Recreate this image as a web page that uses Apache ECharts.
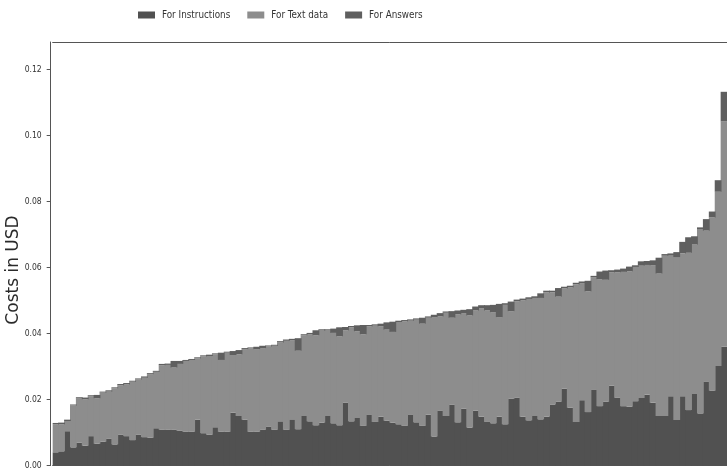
<!DOCTYPE html>
<html>
<head>
<meta charset="utf-8">
<script src="https://cdn.jsdelivr.net/npm/echarts@6/dist/echarts.min.js"></script>
<style>
  html, body { margin: 0; padding: 0; background: #ffffff; }
  #chart { width: 727px; height: 470px; }
</style>
</head>
<body>
<div id="chart"></div>
<script>
// Per-sample API cost split, samples ordered by total cost (USD)
const instructions = [
  0.0040, 0.0043, 0.0104, 0.0055, 0.0069, 0.0060, 0.0089, 0.0066, 0.0072, 0.0082,
  0.0064, 0.0094, 0.0089, 0.0077, 0.0094, 0.0086, 0.0084, 0.0113, 0.0108, 0.0108,
  0.0108, 0.0105, 0.0102, 0.0102, 0.0139, 0.0098, 0.0093, 0.0116, 0.0102, 0.0102,
  0.0160, 0.0150, 0.0139, 0.0102, 0.0102, 0.0108, 0.0117, 0.0108, 0.0134, 0.0108,
  0.0140, 0.0110, 0.0150, 0.0134, 0.0122, 0.0130, 0.0150, 0.0128, 0.0122, 0.0190,
  0.0134, 0.0144, 0.0120, 0.0155, 0.0132, 0.0148, 0.0136, 0.0130, 0.0125, 0.0120,
  0.0155, 0.0131, 0.0120, 0.0154, 0.0088, 0.0167, 0.0150, 0.0185, 0.0131, 0.0172,
  0.0115, 0.0166, 0.0148, 0.0132, 0.0128, 0.0148, 0.0125, 0.0202, 0.0205, 0.0148,
  0.0137, 0.0150, 0.0140, 0.0148, 0.0185, 0.0193, 0.0233, 0.0175, 0.0132, 0.0198,
  0.0162, 0.0229, 0.0180, 0.0193, 0.0242, 0.0205, 0.0180, 0.0178, 0.0195, 0.0205,
  0.0215, 0.0190, 0.0150, 0.0150, 0.0210, 0.0138, 0.0210, 0.0168, 0.0217, 0.0158,
  0.0255, 0.0227, 0.0302, 0.0360
];

const textData = [
  0.0085, 0.0082, 0.0031, 0.0127, 0.0134, 0.0141, 0.0121, 0.0138, 0.0149, 0.0142,
  0.0170, 0.0149, 0.0157, 0.0177, 0.0167, 0.0180, 0.0193, 0.0171, 0.0196, 0.0197,
  0.0189, 0.0203, 0.0215, 0.0218, 0.0186, 0.0233, 0.0239, 0.0221, 0.0218, 0.0240,
  0.0175, 0.0187, 0.0214, 0.0253, 0.0251, 0.0248, 0.0244, 0.0255, 0.0239, 0.0270,
  0.0240, 0.0238, 0.0245, 0.0264, 0.0273, 0.0279, 0.0259, 0.0274, 0.0270, 0.0220,
  0.0285, 0.0263, 0.0278, 0.0267, 0.0292, 0.0274, 0.0276, 0.0275, 0.0310, 0.0317,
  0.0284, 0.0311, 0.0310, 0.0294, 0.0362, 0.0285, 0.0313, 0.0263, 0.0327, 0.0290,
  0.0340, 0.0304, 0.0328, 0.0338, 0.0337, 0.0302, 0.0362, 0.0266, 0.0293, 0.0353,
  0.0368, 0.0358, 0.0368, 0.0377, 0.0340, 0.0319, 0.0304, 0.0365, 0.0417, 0.0355,
  0.0366, 0.0341, 0.0385, 0.0370, 0.0344, 0.0381, 0.0407, 0.0411, 0.0407, 0.0401,
  0.0393, 0.0417, 0.0432, 0.0486, 0.0428, 0.0494, 0.0433, 0.0477, 0.0453, 0.0559,
  0.0457, 0.0525, 0.0528, 0.0683
];

const answers = [
  0.0004, 0.0005, 0.0004, 0.0003, 0.0004, 0.0005, 0.0003, 0.0010, 0.0003, 0.0004,
  0.0003, 0.0004, 0.0004, 0.0003, 0.0003, 0.0004, 0.0003, 0.0003, 0.0004, 0.0004,
  0.0020, 0.0009, 0.0003, 0.0003, 0.0003, 0.0003, 0.0004, 0.0003, 0.0022, 0.0003,
  0.0012, 0.0013, 0.0003, 0.0003, 0.0007, 0.0007, 0.0003, 0.0003, 0.0004, 0.0004,
  0.0004, 0.0038, 0.0003, 0.0004, 0.0015, 0.0004, 0.0004, 0.0013, 0.0027, 0.0010,
  0.0004, 0.0018, 0.0028, 0.0004, 0.0004, 0.0008, 0.0022, 0.0031, 0.0004, 0.0004,
  0.0004, 0.0004, 0.0018, 0.0004, 0.0007, 0.0010, 0.0004, 0.0020, 0.0012, 0.0010,
  0.0019, 0.0012, 0.0010, 0.0016, 0.0022, 0.0040, 0.0005, 0.0029, 0.0005, 0.0005,
  0.0005, 0.0005, 0.0014, 0.0005, 0.0005, 0.0026, 0.0005, 0.0005, 0.0005, 0.0005,
  0.0032, 0.0005, 0.0023, 0.0028, 0.0006, 0.0008, 0.0010, 0.0014, 0.0005, 0.0013,
  0.0012, 0.0015, 0.0048, 0.0005, 0.0005, 0.0015, 0.0035, 0.0047, 0.0025, 0.0005,
  0.0035, 0.0018, 0.0035, 0.0090
];

const seriesNames = ['For Instructions', 'For Text data', 'For Answers'];
const costTicks = [0, 0.02, 0.04, 0.06, 0.08, 0.10, 0.12];
const samples = instructions.map((_, i) => String(i + 1));

const narrowFont = "'DejaVu Sans Condensed', 'Liberation Sans Narrow', 'DejaVu Sans', sans-serif";

const chart = echarts.init(document.getElementById('chart'), null, { renderer: 'canvas' });

// One stacked layer. Bars are drawn slightly wider than their category band
// so neighbours overlap and no anti-aliasing seams show between them.
function stackSeries(name, values, color) {
  return {
    name: name,
    type: 'bar',
    stack: 'cost',
    data: values,
    barWidth: 6.8,
    barCategoryGap: '0%',
    itemStyle: { color: color },
    emphasis: { disabled: true },
    animation: false
  };
}

chart.setOption({
  animation: false,
  backgroundColor: '#ffffff',
  legend: {
    data: seriesNames,
    left: 138,
    top: 10,
    padding: 0,
    icon: 'rect',
    itemWidth: 17,
    itemHeight: 7,
    itemGap: 17,
    textStyle: {
      fontFamily: narrowFont,
      fontSize: 9.8,
      color: '#333333',
      padding: [0, 0, 0, 2]
    }
  },
  grid: {
    left: 52.67,
    right: -1.2,
    top: 42,
    bottom: -1,
    containLabel: false
  },
  xAxis: [
    {
      type: 'category',
      data: samples,
      boundaryGap: true,
      axisLine: { show: true, lineStyle: { color: '#555555', width: 1 } },
      axisTick: { show: false },
      axisLabel: { show: false },
      splitLine: { show: false }
    },
    {
      type: 'category',
      data: samples,
      position: 'top',
      boundaryGap: true,
      axisLine: { show: true, onZero: false, lineStyle: { color: '#555555', width: 1 } },
      axisTick: { show: false },
      axisLabel: { show: false },
      splitLine: { show: false }
    }
  ],
  yAxis: {
    type: 'value',
    min: 0,
    max: 0.1284,
    offset: 2,
    axisLine: { show: true, lineStyle: { color: '#555555', width: 1 } },
    axisTick: {
      show: true,
      inside: false,
      length: 4,
      customValues: costTicks,
      lineStyle: { color: '#555555' }
    },
    axisLabel: {
      customValues: costTicks,
      margin: 9,
      fontFamily: narrowFont,
      fontSize: 8.5,
      color: '#333333',
      formatter: v => v.toFixed(2)
    },
    splitLine: { show: false }
  },
  graphic: [
    {
      type: 'text',
      x: 14,
      y: 270,
      rotation: Math.PI / 2,
      style: {
        text: 'Costs in USD',
        font: "17px 'DejaVu Sans', sans-serif",
        fill: '#2a2a2a',
        textAlign: 'center',
        textVerticalAlign: 'middle'
      }
    }
  ],
  series: [
    stackSeries(seriesNames[0], instructions, '#515151'),
    stackSeries(seriesNames[1], textData, '#8d8d8d'),
    stackSeries(seriesNames[2], answers, '#5f5f5f')
  ]
});
</script>
</body>
</html>
